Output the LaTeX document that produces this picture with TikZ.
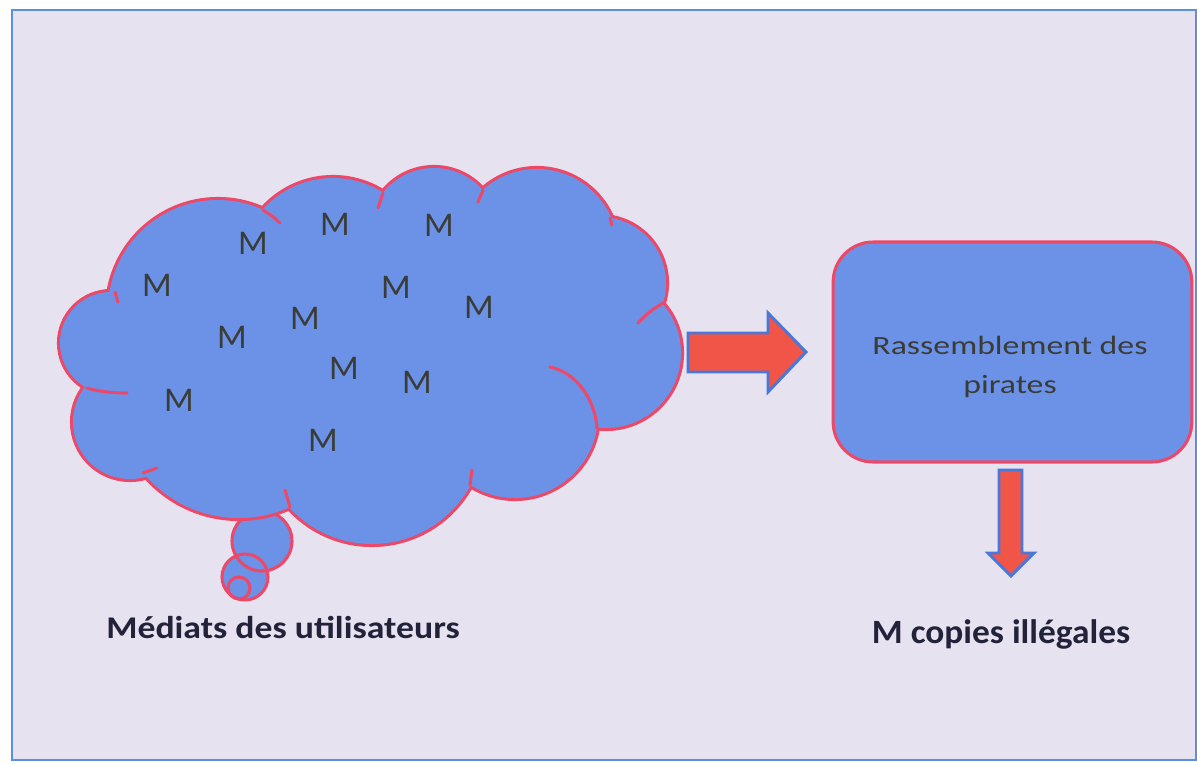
\documentclass[tikz,border=0pt]{standalone}
\usepackage{fontspec}
\setmainfont{Carlito}
\usepackage{graphicx}

\definecolor{paper}{HTML}{E6E2F0}
\definecolor{framec}{HTML}{5B8FE0}
\definecolor{cloudblue}{HTML}{6C92E8}
\definecolor{rimc}{HTML}{EC4868}
\definecolor{arrowred}{HTML}{F05548}
\definecolor{arrowrim}{HTML}{4A78DA}
\definecolor{inkc}{HTML}{3A3C38}
\definecolor{labelc}{HTML}{22223A}

\begin{document}
\begin{tikzpicture}[x=0.75pt,y=-0.75pt,
  rimline/.style={draw=rimc, line width=2.3pt},
  mletter/.style={inner sep=0pt, text=inkc, font=\fontsize{26}{30}\selectfont},
  boxtext/.style={inner sep=0pt, anchor=base, text=inkc, font=\fontsize{19.8}{24}\selectfont},
  caption/.style={inner sep=0pt, anchor=base, text=labelc},
  blockarrow/.style={fill=arrowred, draw=arrowrim, line width=2.2pt, line join=miter},
  gatherbox/.style={fill=cloudblue, draw=rimc, line width=2.3pt, rounded corners=30pt}]

\useasboundingbox (0,0) rectangle (1197,764);
\fill[white] (0,0) rectangle (1197,764);
\draw[fill=paper, draw=framec, line width=2pt] (12,10) rectangle (1196,760);

% thought bubbles below the cloud
\foreach \cx/\cy/\r in {262/541/30, 245/577/23, 239/588/11}
  \fill[cloudblue] (\cx,\cy) circle[radius=\r];
\foreach \cx/\cy/\r in {262/541/30, 245/577/23, 239/588/11}
  \draw[rimline] (\cx,\cy) circle[radius=\r];

% cloud: stroke every lobe, then fill them so only the outer rim stays visible
\foreach \cx/\cy/\r in {218/310/110, 333/272/94, 434/233/65, 537/250/81,
                        600/283/66, 606/353/75, 515/415/83, 372/432/112,
                        239/394/124, 130/422/57, 111/343/51}
  \draw[draw=rimc, line width=4.6pt] (\cx,\cy) circle[radius=\r];
\foreach \cx/\cy/\r in {218/310/110, 333/272/94, 434/233/65, 537/250/81,
                        600/283/66, 606/353/75, 515/415/83, 372/432/112,
                        239/394/124, 130/422/57, 111/343/51}
  \fill[cloudblue] (\cx,\cy) circle[radius=\r];
\fill[cloudblue] (115,292) -- (263,210) -- (383,193) -- (483,190) -- (610,218)
  -- (663,303) -- (597,428) -- (470,485) -- (290,507) -- (143,473) -- (87,388) -- cycle;

% inner tails of the lobes
\begin{scope}[rimline, line cap=round]
  \draw (115,292) -- (118,302);
  \draw (263,210) .. controls (271,215) .. (280,223);
  \draw (383,193) -- (378,208);
  \draw (483,190) -- (478,202);
  \draw (610,218) -- (612,225);
  \draw (663,303) .. controls (650,311) .. (638,323);
  \draw (597,428) .. controls (595,398) and (575,372) .. (550,367);
  \draw (470,485) -- (472,470);
  \draw (290,507) -- (285,490);
  \draw (143,473) -- (157,468);
  \draw (87,388) .. controls (100,392) and (115,393) .. (127,393);
\end{scope}

% media items inside the cloud
\node[mletter] (m1)  at (253,243) {M};
\node[mletter] (m2)  at (335,224) {M};
\node[mletter] (m3)  at (439,225) {M};
\node[mletter] (m4)  at (157,285) {M};
\node[mletter] (m5)  at (396,287) {M};
\node[mletter] (m6)  at (479,307) {M};
\node[mletter] (m7)  at (305,318) {M};
\node[mletter] (m8)  at (232,337) {M};
\node[mletter] (m9)  at (344,368) {M};
\node[mletter] (m10) at (417,382) {M};
\node[mletter] (m11) at (179,400) {M};
\node[mletter] (m12) at (323,440) {M};

% arrow towards the pirates
\draw[blockarrow] (688,333) -- (768,333) -- (768,313) -- (806,352)
  -- (768,392) -- (768,372) -- (688,372) -- cycle;

% gathering box
\node[gatherbox, minimum width=269pt, minimum height=165pt] (gather) at (1012.5,352) {};
\node[boxtext] (g1) at (1010,354) {\scalebox{1.28}[1]{Rassemblement des}};
\node[boxtext] (g2) at (1010,393) {\scalebox{1.28}[1]{pirates}};

% arrow down to the copies
\draw[blockarrow] (999,470) -- (1022,470) -- (1022,553) -- (1034,553)
  -- (1011,576) -- (988,553) -- (999,553) -- cycle;

% captions
\node[caption, font=\bfseries\fontsize{23.7}{28}\selectfont] (users) at (283,638)
  {\scalebox{1.13}[1]{Médiats des utilisateurs}};
\node[caption, font=\bfseries\fontsize{25.5}{30}\selectfont] (copies) at (1001,643)
  {\scalebox{1.04}[1]{M copies illégales}};
\end{tikzpicture}
\end{document}
